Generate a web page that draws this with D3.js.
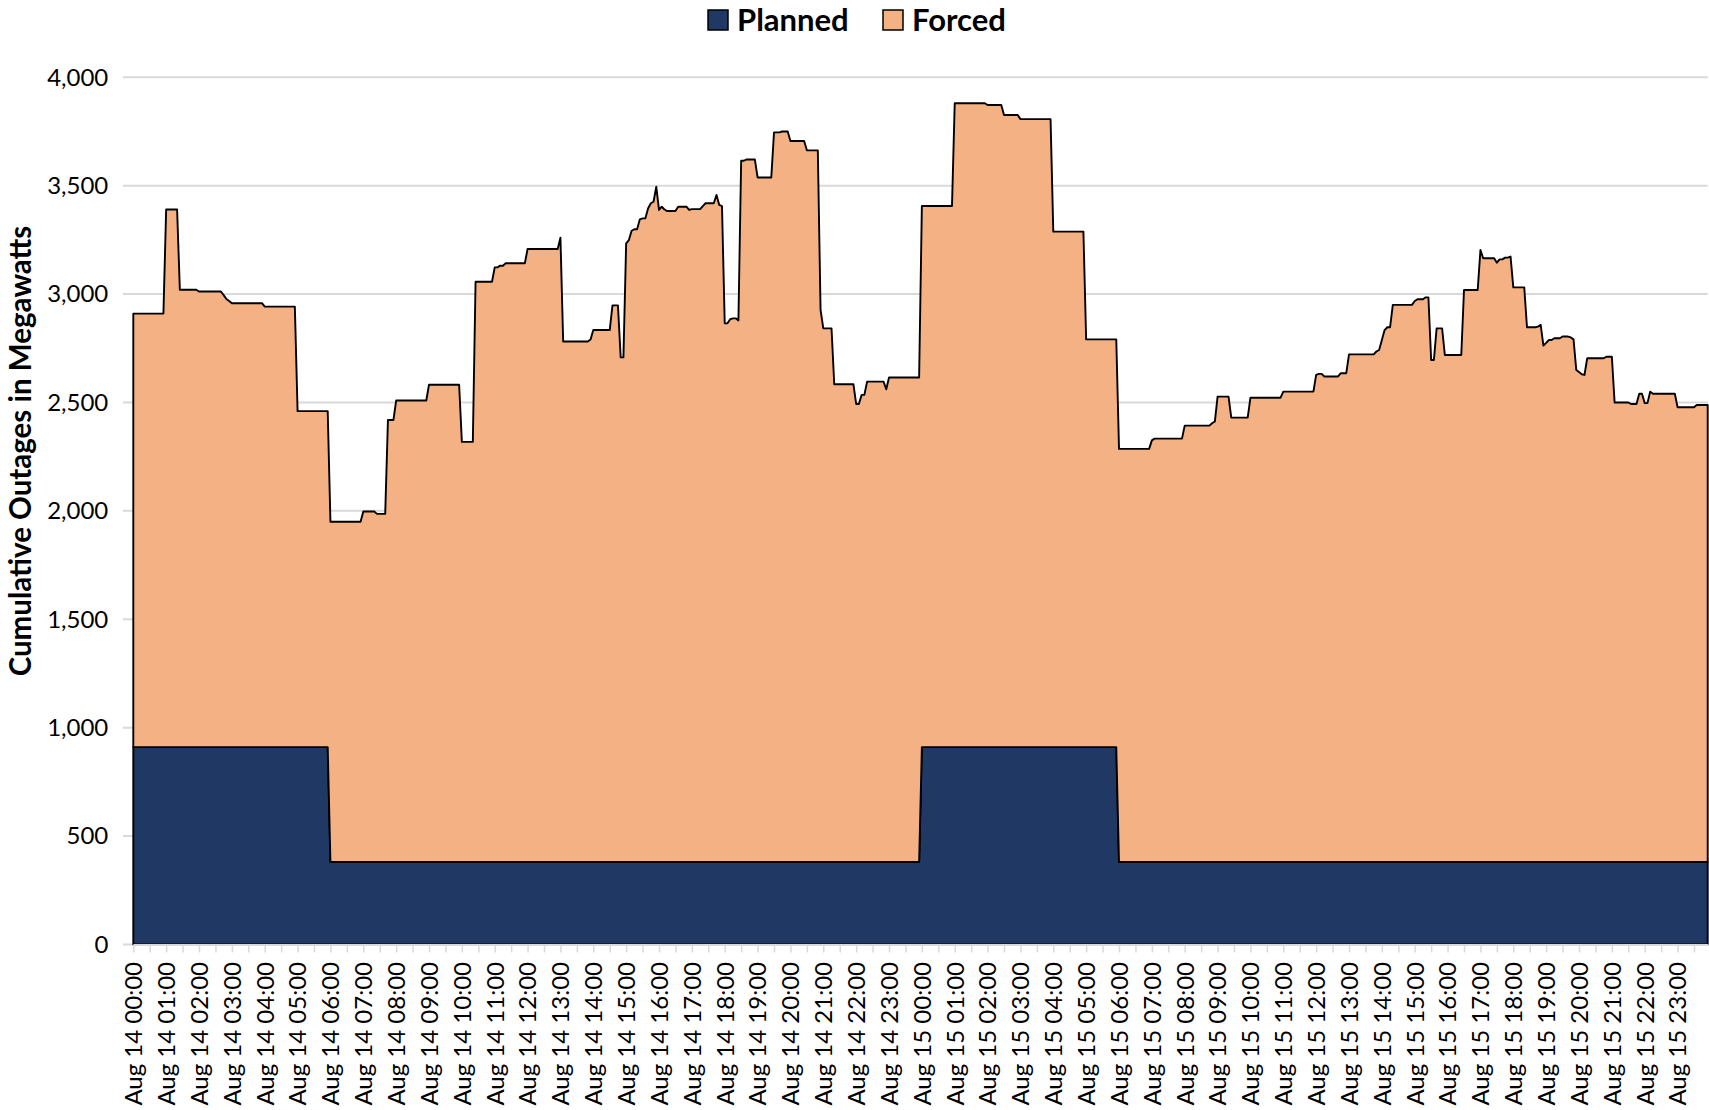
<!DOCTYPE html>
<html>
<head>
<meta charset="utf-8">
<script src="https://cdn.jsdelivr.net/npm/d3@7"></script>
<style>
  body { margin: 0; background: #fff; }
  #outage_chart text { font-family: Lato, "Open Sans", sans-serif; fill: #000; }
</style>
</head>
<body>
<div id="outage_chart"></div>
<script>
// Each value holds from its time until the next listed time (5-minute data).
var plannedTimes = ["Aug 14 00:00", "Aug 14 06:00", "Aug 15 00:00", "Aug 15 06:00"];
var plannedValues = [910, 380, 910, 380];

var forcedTimes = [
  "Aug 14 00:00", "Aug 14 01:00", "Aug 14 01:25", "Aug 14 02:00", "Aug 14 02:45", "Aug 14 02:50",
  "Aug 14 02:55", "Aug 14 03:00", "Aug 14 04:00", "Aug 14 05:00", "Aug 14 06:00", "Aug 14 07:00",
  "Aug 14 07:25", "Aug 14 07:45", "Aug 14 08:00", "Aug 14 09:00", "Aug 14 10:00", "Aug 14 10:25",
  "Aug 14 11:00", "Aug 14 11:10", "Aug 14 11:20", "Aug 14 12:00", "Aug 14 13:00", "Aug 14 13:05",
  "Aug 14 13:55", "Aug 14 14:00", "Aug 14 14:35", "Aug 14 14:50", "Aug 14 15:00", "Aug 14 15:05",
  "Aug 14 15:10", "Aug 14 15:15", "Aug 14 15:25", "Aug 14 15:30", "Aug 14 15:40", "Aug 14 15:45",
  "Aug 14 15:50", "Aug 14 15:55", "Aug 14 16:00", "Aug 14 16:05", "Aug 14 16:10", "Aug 14 16:15",
  "Aug 14 16:35", "Aug 14 16:55", "Aug 14 17:00", "Aug 14 17:20", "Aug 14 17:25", "Aug 14 17:45",
  "Aug 14 17:50", "Aug 14 17:55", "Aug 14 18:00", "Aug 14 18:10", "Aug 14 18:15", "Aug 14 18:25",
  "Aug 14 18:30", "Aug 14 18:40", "Aug 14 19:00", "Aug 14 19:30", "Aug 14 19:45", "Aug 14 20:00",
  "Aug 14 20:30", "Aug 14 20:55", "Aug 14 21:00", "Aug 14 21:20", "Aug 14 22:00", "Aug 14 22:10",
  "Aug 14 22:20", "Aug 14 22:55", "Aug 14 23:00",
  "Aug 15 00:00", "Aug 15 01:00", "Aug 15 02:00", "Aug 15 02:30", "Aug 15 03:00", "Aug 15 04:00",
  "Aug 15 05:00", "Aug 15 06:00", "Aug 15 07:00", "Aug 15 07:05", "Aug 15 08:00", "Aug 15 08:50",
  "Aug 15 08:55", "Aug 15 09:00", "Aug 15 09:25", "Aug 15 10:00", "Aug 15 11:00", "Aug 15 12:00",
  "Aug 15 12:05", "Aug 15 12:15", "Aug 15 12:45", "Aug 15 13:00", "Aug 15 13:50", "Aug 15 13:55",
  "Aug 15 14:00", "Aug 15 14:05", "Aug 15 14:10", "Aug 15 14:20", "Aug 15 15:00", "Aug 15 15:05",
  "Aug 15 15:20", "Aug 15 15:30", "Aug 15 15:40", "Aug 15 15:55", "Aug 15 16:30", "Aug 15 17:00",
  "Aug 15 17:05", "Aug 15 17:30", "Aug 15 17:35", "Aug 15 17:45", "Aug 15 17:55", "Aug 15 18:00",
  "Aug 15 18:25", "Aug 15 18:45", "Aug 15 18:50", "Aug 15 18:55", "Aug 15 19:00", "Aug 15 19:05",
  "Aug 15 19:15", "Aug 15 19:30", "Aug 15 19:45", "Aug 15 19:50", "Aug 15 19:55", "Aug 15 20:00",
  "Aug 15 20:05", "Aug 15 20:10", "Aug 15 20:15", "Aug 15 20:50", "Aug 15 21:05", "Aug 15 21:35",
  "Aug 15 21:50", "Aug 15 22:00", "Aug 15 22:10", "Aug 15 22:15", "Aug 15 23:00", "Aug 15 23:35"
];
var forcedValues = [
  2000, 2480, 2110, 2102, 2085, 2067,
  2058, 2048, 2032, 1550, 1570, 1617,
  1606, 2039, 2129, 2202, 1938, 2677,
  2743, 2751, 2762, 2828, 2880, 2401,
  2410, 2454, 2568, 2328, 2854, 2869,
  2912, 2919, 2965, 2969, 3015, 3039,
  3046, 3115, 3008, 3023, 3010, 3003,
  3023, 3008, 3012, 3026, 3039, 3077,
  3031, 3026, 2485, 2504, 2508, 2498,
  3235, 3241, 3158, 3366, 3370, 3326,
  3283, 2547, 2462, 2204, 2113, 2155,
  2216, 2181, 2235,
  2496, 2970, 2962, 2916, 2897, 2378,
  1881, 1906, 1945, 1953, 2013, 2024,
  2032, 2147, 2050, 2142, 2170, 2247,
  2252, 2240, 2255, 2342, 2355, 2362,
  2408, 2454, 2467, 2570, 2588, 2596,
  2605, 2316, 2462, 2339, 2639, 2823,
  2785, 2765, 2780, 2788, 2793, 2651,
  2467, 2470, 2478, 2382, 2395, 2408,
  2416, 2424, 2420, 2411, 2270, 2260,
  2250, 2247, 2324, 2331, 2120, 2113,
  2160, 2117, 2170, 2160, 2098, 2108
];

var seriesNames = ["Planned", "Forced"];
var seriesColors = ["#203864", "#F4B183"];
var yTicks = [0, 500, 1000, 1500, 2000, 2500, 3000, 3500, 4000];

var w = 1709, h = 1110;
var plotLeft = 133.3, plotRight = 1707.7, plotTop = 77.3, plotBottom = 944.4;

var parseTime = d3.utcParse("%b %d %H:%M");
var formatTime = d3.utcFormat("%b %d %H:%M");
var start = parseTime("Aug 14 00:00");
var end = parseTime("Aug 15 23:55");

// hold each listed value until the next change
function holdAt(times, values) {
    var parsed = times.map(parseTime);
    return function (t) { return values[d3.bisectRight(parsed, t) - 1]; };
}
var plannedAt = holdAt(plannedTimes, plannedValues);
var forcedAt = holdAt(forcedTimes, forcedValues);

var slots = d3.utcMinute.every(5).range(start, d3.utcMinute.offset(end, 1));
var table = slots.map(function (t) {
    return { time: t, Planned: plannedAt(t), Forced: forcedAt(t) };
});
var stacked = d3.stack().keys(seriesNames)(table);

var x = d3.scaleUtc().domain([start, end]).range([plotLeft, plotRight]);
var y = d3.scaleLinear().domain([0, 4000]).range([plotBottom, plotTop]);

var svg = d3.select("#outage_chart")
    .append("svg")
    .attr("width", w)
    .attr("height", h);

// gridlines
svg.append("g")
    .selectAll("line")
    .data(yTicks)
    .enter()
    .append("line")
    .attr("x1", 123)
    .attr("x2", plotRight)
    .attr("y1", function (d) { return y(d); })
    .attr("y2", function (d) { return y(d); })
    .attr("stroke", "#d9d9d9")
    .attr("stroke-width", 2);

// y tick labels
svg.append("g")
    .selectAll("text")
    .data(yTicks)
    .enter()
    .append("text")
    .attr("x", 108.3)
    .attr("y", function (d) { return y(d); })
    .attr("dy", "0.35em")
    .attr("text-anchor", "end")
    .style("font-size", "24px")
    .text(d3.format(","));

// stacked areas
var area = d3.area()
    .x(function (d) { return x(d.data.time); })
    .y0(function (d) { return y(d[0]); })
    .y1(function (d) { return y(d[1]); });

svg.append("g")
    .selectAll("path")
    .data(stacked)
    .enter()
    .append("path")
    .attr("d", area)
    .attr("fill", function (d, i) { return seriesColors[i]; })
    .attr("stroke", "#000")
    .attr("stroke-width", 1.9)
    .attr("stroke-linejoin", "round");

// x axis: ticks every half hour, labels every hour
var tickTimes = d3.utcMinute.every(30).range(start, end);
var xAxis = d3.axisBottom(x)
    .tickValues(tickTimes)
    .tickSize(8)
    .tickSizeOuter(0)
    .tickFormat(function (d) { return d.getUTCMinutes() === 0 ? formatTime(d) : ""; });

var gx = svg.append("g")
    .attr("transform", "translate(0," + plotBottom + ")")
    .call(xAxis);
gx.select(".domain").attr("stroke", "#d9d9d9").attr("stroke-width", 2);
gx.selectAll(".tick line").attr("stroke", "#d9d9d9").attr("stroke-width", 1.5);
gx.selectAll(".tick text")
    .attr("transform", "rotate(-90)")
    .attr("x", -17.6)
    .attr("y", 0)
    .attr("dy", "0.35em")
    .attr("text-anchor", "end")
    .style("font-size", "24px");

// y axis title
svg.append("text")
    .attr("transform", "translate(31,451) rotate(-90)")
    .attr("text-anchor", "middle")
    .style("font-size", "29.5px")
    .style("font-weight", "bold")
    .text("Cumulative Outages in Megawatts");

// legend
var legendX = [708, 883];
var legend = svg.append("g")
    .selectAll("g")
    .data(seriesNames)
    .enter()
    .append("g")
    .attr("transform", function (d, i) { return "translate(" + legendX[i] + ",10)"; });
legend.append("rect")
    .attr("width", 20)
    .attr("height", 20)
    .attr("fill", function (d, i) { return seriesColors[i]; })
    .attr("stroke", "#000")
    .attr("stroke-width", 1.5);
legend.append("text")
    .attr("x", 29)
    .attr("y", 20.5)
    .style("font-size", "31px")
    .style("font-weight", "bold")
    .text(function (d) { return d; });
</script>
</body>
</html>
